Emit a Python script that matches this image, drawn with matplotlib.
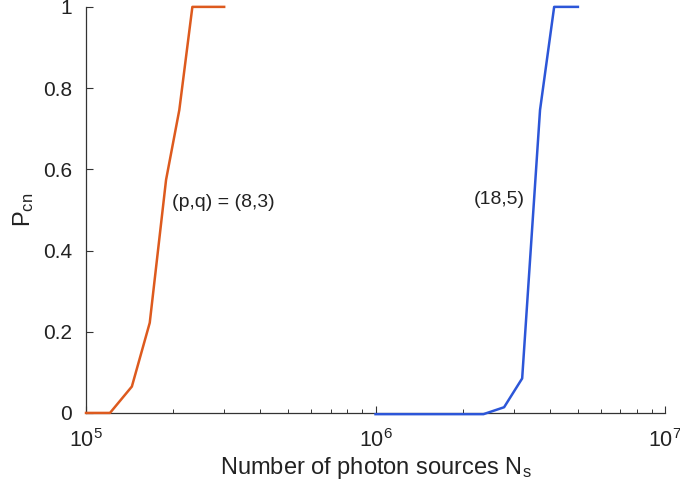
import matplotlib
matplotlib.use('Agg')
import matplotlib.pyplot as plt
from matplotlib.ticker import LogLocator, NullFormatter

plt.rcParams['font.family'] = ['Liberation Sans', 'DejaVu Sans']
plt.rcParams['mathtext.fontset'] = 'custom'
plt.rcParams['mathtext.rm'] = 'Liberation Sans'
plt.rcParams['mathtext.it'] = 'Liberation Sans'

# (p,q) = (8,3)
ns_83 = [1.0e5, 1.21e5, 1.44e5, 1.66e5, 1.89e5, 2.1e5, 2.33e5, 3.0e5]
pcn_83 = [0.0, 0.0, 0.065, 0.222, 0.574, 0.746, 1.0, 1.0]

# (p,q) = (18,5)
ns_185 = [1.0e6, 2.36e6, 2.78e6, 3.21e6, 3.7e6, 4.14e6, 5.0e6]
pcn_185 = [-0.003, -0.003, 0.014, 0.085, 0.746, 1.0, 1.0]

yticks = [0, 0.2, 0.4, 0.6, 0.8, 1]
ytick_labels = ['0', '0.2', '0.4', '0.6', '0.8', '1']

fig = plt.figure(figsize=(6.8, 4.91), dpi=100)
ax = fig.add_axes([0.1265, 0.159, 0.8515, 0.827])

ax.plot(ns_83, pcn_83, color='#DD5A1E', linewidth=1.8, clip_on=False, zorder=3)
ax.plot(ns_185, pcn_185, color='#2C56D8', linewidth=1.8, clip_on=False, zorder=3)

ax.set_xscale('log')
ax.set_xlim(1e5, 1e7)
ax.set_ylim(0, 1)
ax.set_yticks(yticks)
ax.set_yticklabels(ytick_labels)
ax.xaxis.set_major_locator(LogLocator(base=10, numticks=5))
ax.xaxis.set_minor_locator(LogLocator(base=10, subs=range(2, 10), numticks=20))
ax.xaxis.set_minor_formatter(NullFormatter())

for s in ['top', 'right']:
    ax.spines[s].set_visible(False)
for s in ['left', 'bottom']:
    ax.spines[s].set_color('#333333')
    ax.spines[s].set_linewidth(0.9)

ax.tick_params(axis='y', which='major', direction='in', length=5, width=0.8,
               labelsize=15, colors='#333333', labelcolor='#222222', pad=10)
ax.tick_params(axis='x', which='major', direction='in', length=5, width=0.8,
               labelsize=15.5, colors='#333333', labelcolor='#222222', pad=12)
ax.tick_params(axis='x', which='minor', direction='in', length=3, width=0.7, colors='#333333')

ax.text(1.98e5, 0.517, '(p,q) = (8,3)', fontsize=14, color='#222222', va='center')
ax.text(2.19e6, 0.525, '(18,5)', fontsize=14, color='#222222', va='center')

ax.set_xlabel('Number of photon sources N$_\\mathrm{s}$', fontsize=17, color='#222222', labelpad=2)
ax.set_ylabel('P$_\\mathrm{cn}$', fontsize=17, color='#222222', labelpad=5)

plt.savefig('out.png', dpi=100)
plt.close()
